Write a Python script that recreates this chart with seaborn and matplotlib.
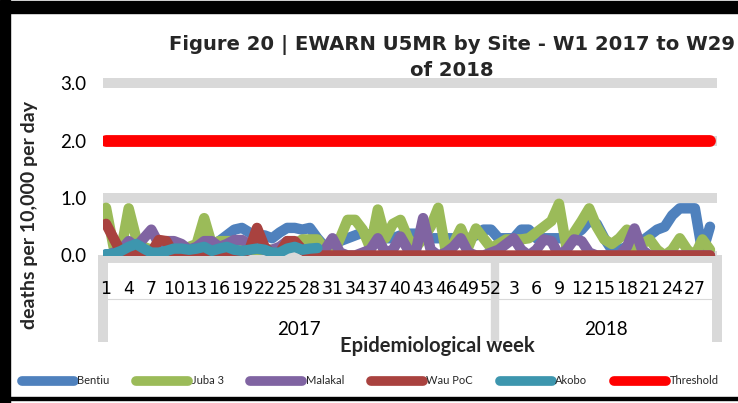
import numpy as np
import pandas as pd
import matplotlib
matplotlib.use("Agg")
import matplotlib.pyplot as plt
import matplotlib.transforms as mtransforms
from matplotlib.lines import Line2D
from matplotlib.patches import Rectangle
import seaborn as sns

# ---------------- data ----------------
weeks = list(range(1, 53)) + list(range(1, 30))
years = ["2017"] * 52 + ["2018"] * 29
sites = ["Bentiu", "Juba 3", "Malakal", "Wau PoC", "Akobo", "Threshold"]
colors = ["#4f81bd", "#9bbb59", "#8064a2", "#a9423f", "#3d96ae", "#ff0000"]

bentiu = [0.02, 0.02, 0.03, 0.05, 0.05, 0.05, 0.05, 0.05, 0.08, 0.08,
          0.1, 0.12, 0.15, 0.2, 0.2, 0.25, 0.35, 0.45, 0.48, 0.4,
          0.35, 0.35, 0.3, 0.4, 0.48, 0.48, 0.45, 0.48, 0.3, 0.15,
          0.2, 0.25, 0.3, 0.35, 0.4, 0.35, 0.35, 0.3, 0.3, 0.35,
          0.38, 0.38, 0.3, 0.3, 0.3, 0.3, 0.3, 0.3, 0.3, 0.35,
          0.45, 0.45, 0.3, 0.3, 0.3, 0.45, 0.45, 0.3, 0.3, 0.3,
          0.3, 0.3, 0.35, 0.45, 0.6, 0.55, 0.3, 0.1, 0.1, 0.15,
          0.2, 0.25, 0.35, 0.45, 0.5, 0.7, 0.82, 0.82, 0.82, 0.05,
          0.5]
juba3 = [0.83, 0.15, 0.1, 0.82, 0.3, 0.15, 0.1, 0.1, 0.1, 0.1,
         0.1, 0.15, 0.2, 0.65, 0.2, 0.25, 0.25, 0.25, 0.1, 0.1,
         0.1, 0.1, 0.1, 0.1, 0.15, 0.2, 0.28, 0.28, 0.28, 0.1,
         0.0, 0.3, 0.62, 0.62, 0.45, 0.13, 0.8, 0.3, 0.55, 0.62,
         0.3, 0.13, 0.3, 0.5, 0.83, 0.08, 0.2, 0.47, 0.15, 0.47,
         0.3, 0.13, 0.2, 0.28, 0.28, 0.28, 0.3, 0.4, 0.5, 0.6,
         0.9, 0.13, 0.4, 0.6, 0.82, 0.5, 0.28, 0.2, 0.3, 0.45,
         0.1, 0.2, 0.28, 0.1, 0.0, 0.1, 0.3, 0.1, 0.0, 0.28,
         0.1]
malakal = [0.0, 0.05, 0.1, 0.25, 0.15, 0.3, 0.45, 0.2, 0.25, 0.25,
           0.2, 0.1, 0.15, 0.25, 0.25, 0.15, 0.2, 0.27, 0.27, 0.2,
           0.15, 0.1, 0.1, 0.15, 0.25, 0.2, 0.1, 0.05, 0.0, 0.1,
           0.3, 0.05, 0.0, 0.0, 0.05, 0.1, 0.3, 0.05, 0.1, 0.33,
           0.1, 0.05, 0.65, 0.1, 0.0, 0.05, 0.15, 0.3, 0.05, 0.0,
           0.0, 0.05, 0.1, 0.2, 0.3, 0.1, 0.0, 0.1, 0.28, 0.25,
           0.0, 0.1, 0.28, 0.25, 0.05, 0.0, 0.0, 0.0, 0.0, 0.15,
           0.47, 0.1, 0.0, 0.0, 0.0, 0.0, 0.0, 0.0, 0.0, 0.0,
           0.0]
wau_poc = [0.55, 0.3, 0.05, 0.05, 0.05, 0.05, 0.05, 0.27, 0.25, 0.02,
           0.02, 0.02, 0.02, 0.02, 0.02, 0.05, 0.05, 0.05, 0.05, 0.1,
           0.48, 0.15, 0.02, 0.05, 0.25, 0.25, 0.1, 0.02, 0.0, 0.0,
           0.0, 0.0, 0.0, 0.0, 0.0, 0.0, 0.0, 0.0, 0.0, 0.0,
           0.0, 0.0, 0.0, 0.0, 0.0, 0.0, 0.0, 0.0, 0.0, 0.0,
           0.0, 0.0, 0.0, 0.0, 0.0, 0.0, 0.0, 0.0, 0.0, 0.0,
           0.0, 0.0, 0.0, 0.0, 0.0, 0.0, 0.0, 0.0, 0.0, 0.0,
           0.0, 0.0, 0.0, 0.0, 0.0, 0.0, 0.0, 0.0, 0.0, 0.0,
           0.0]
akobo = [0.02, 0.03, 0.08, 0.15, 0.2, 0.12, 0.05, 0.05, 0.08, 0.12,
         0.12, 0.1, 0.12, 0.15, 0.08, 0.12, 0.15, 0.1, 0.08, 0.1,
         0.12, 0.1, 0.05, 0.05, 0.12, 0.15, 0.1, 0.12, 0.13] + [np.nan] * 52
threshold = [2.0] * 81

yticks = [0.0, 1.0, 2.0, 3.0]
title_line1 = "Figure 20 | EWARN U5MR by Site - W1 2017 to W29"
title_line2 = "of 2018"

# ---------------- figure ----------------
sns.set_theme(style="white")
plt.rcParams['font.family'] = ['Lato', 'DejaVu Sans']

W, H = 738, 403
fig = plt.figure(figsize=(W / 100, H / 100), dpi=100)
fig.patch.set_facecolor("white")

ax_left, ax_right, ax_top, ax_bot = 103, 717, 77.25, 255.5
ax = fig.add_axes([ax_left / W, 1 - ax_bot / H,
                   (ax_right - ax_left) / W, (ax_bot - ax_top) / H])

idx = np.arange(len(weeks))
series = [bentiu, juba3, malakal, wau_poc, akobo]
df = pd.DataFrame({
    "idx": np.tile(idx, len(series)),
    "value": np.concatenate([np.asarray(s, dtype=float) for s in series]),
    "site": np.repeat(sites[:5], len(idx)),
})
sns.lineplot(data=df, x="idx", y="value", hue="site", hue_order=sites[:5],
             palette=colors[:5], linewidth=7.5, legend=False, ax=ax,
             estimator=None, sort=False)
sns.lineplot(x=idx, y=threshold, color=colors[5], linewidth=8.5, ax=ax,
             legend=False)
for ln in ax.lines:
    ln.set_solid_capstyle("round")
    ln.set_solid_joinstyle("round")

ax.set_xlim(-0.4, 80.93)
ax.set_ylim(0, 3.1)
ax.set_yticks(yticks)
ax.set_yticklabels([f"{v:.1f}" for v in yticks])
ax.grid(axis="y", color="#d9d9d9", linewidth=7.2)
ax.grid(axis="x", visible=False)
ax.set_axisbelow(True)
ax.set_xticks(idx[::3])
ax.set_xticklabels([str(w) for w in weeks[::3]], family="DejaVu Sans")
ax.tick_params(axis="y", length=0, pad=12, labelsize=13.5, colors="black")
ax.tick_params(axis="x", length=0, pad=18, labelsize=12.5, colors="black")
for sp in ax.spines.values():
    sp.set_visible(False)
ax.set_xlabel("")
ax.set_ylabel("")


def axy(py):
    return (ax_bot - py) / (ax_bot - ax_top)


blend = mtransforms.blended_transform_factory(ax.transData, ax.transAxes)
grey = "#d9d9d9"
# category axis box
ax.plot([0, 1], [axy(258.5), axy(258.5)], transform=ax.transAxes, color=grey,
        lw=5, clip_on=False, solid_capstyle="butt", zorder=0.5)
ax.plot([0, 1], [axy(299), axy(299)], transform=ax.transAxes, color=grey,
        lw=0.8, clip_on=False, zorder=0.5)
for xa in [0, 1]:
    ax.plot([xa, xa], [axy(255), axy(342)], transform=ax.transAxes, color=grey,
            lw=7.2, clip_on=False, solid_capstyle="butt", zorder=0.5)
divider = years.index("2018") - 0.5
ax.plot([divider, divider], [axy(258), axy(342)], transform=blend, color=grey,
        lw=6, clip_on=False, solid_capstyle="butt", zorder=0.5)
xl = ax.get_xlim()
for yr, (a, b) in {"2017": (xl[0], divider), "2018": (divider, xl[1])}.items():
    ax.text((a + b) / 2, axy(329), yr, transform=blend, ha="center",
            va="center", fontsize=13.5, color="black")

# texts
t1 = fig.text(452 / W, 1 - 45 / H, title_line1, ha="center", va="center",
              fontsize=12.5, fontweight="bold", family="DejaVu Sans")
t2 = fig.text(452 / W, 1 - 70 / H, title_line2, ha="center", va="center",
              fontsize=12.5, fontweight="bold", family="DejaVu Sans")
fig.canvas.draw()
w1 = t1.get_window_extent().width
fs = 12.5 * 568 / w1
t1.set_fontsize(fs)
t2.set_fontsize(fs)

fig.text(30 / W, 1 - 215 / H, "deaths per 10,000 per day", rotation=90,
         ha="center", va="center", fontsize=14, fontweight="bold")
fig.text(437 / W, 1 - 346 / H, "Epidemiological week", ha="center",
         va="center", fontsize=14.5, fontweight="bold")

# legend
handles = [Line2D([], [], color=c, lw=7, solid_capstyle="round") for c in colors]
fig.legend(handles, sites, loc="center left",
           bbox_to_anchor=(21.5 / W, 1 - 381 / H), ncol=6, frameon=False,
           fontsize=8, handlelength=4.7, handletextpad=0.3,
           columnspacing=2.4, borderaxespad=0, borderpad=0)

# frame
for (x0, y0, w, h) in [(0, H - 13, W, 12), (0, 0, 10, H), (0, 3, W, 3)]:
    fig.add_artist(Rectangle((x0 / W, y0 / H), w / W, h / H,
                             transform=fig.transFigure, color="black",
                             zorder=20))

fig.savefig("out.png", dpi=100, facecolor="white")
